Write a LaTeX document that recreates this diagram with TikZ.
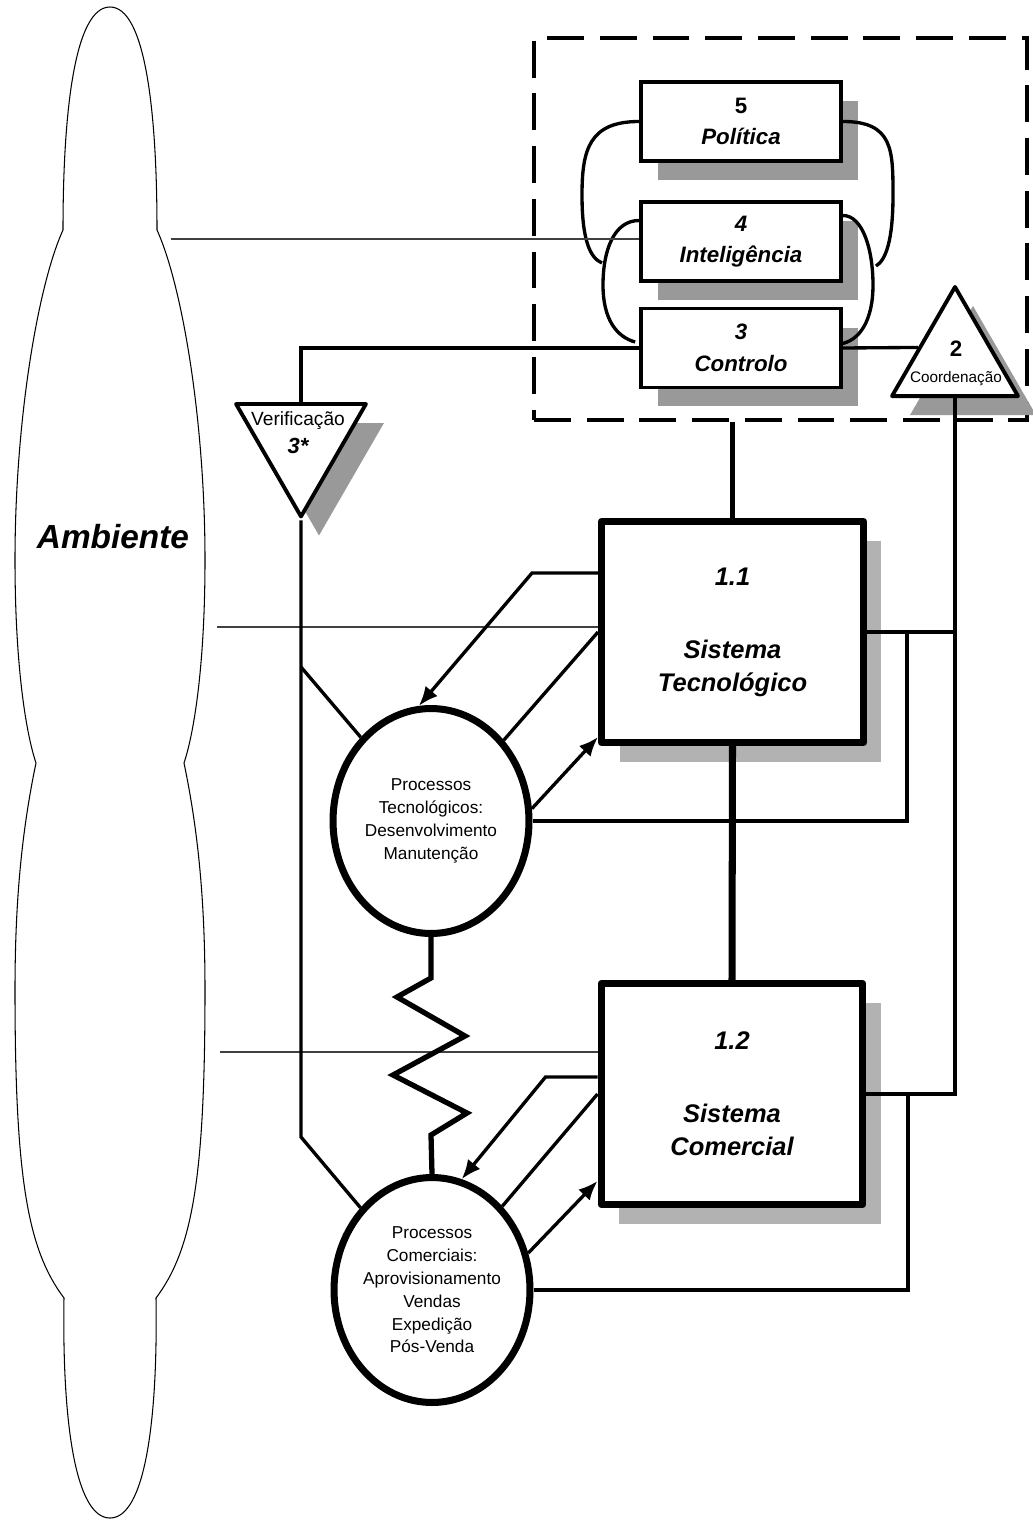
\documentclass[tikz,border=0pt]{standalone}
\usepackage{fontspec}
\setmainfont{Liberation Sans}
\usetikzlibrary{shapes.geometric,shadows,arrows.meta,calc}

\tikzset{
  smallbox/.style={draw, fill=white, line width=2.2pt, minimum width=4cm, minimum height=1.58cm, inner sep=0pt, align=center, font=\fontsize{12.7}{18}\selectfont\bfseries\itshape, drop shadow={shadow xshift=0.34cm, shadow yshift=-0.38cm, fill=black!40, opacity=1}},
  bigbox/.style={draw, fill=white, line width=4pt, line join=round, minimum width=5.24cm, minimum height=4.42cm, inner sep=0pt, align=center, font=\fontsize{14.5}{18.7}\selectfont\bfseries\itshape, drop shadow={shadow xshift=0.36cm, shadow yshift=-0.39cm, fill=black!30, opacity=1}},
  proc/.style={ellipse, draw, fill=white, line width=4pt, minimum width=3.92cm, minimum height=4.5cm, inner sep=0pt, align=center, font=\fontsize{9.8}{13}\selectfont},
  tri/.style={regular polygon, regular polygon sides=3, draw, fill=white, line width=2.2pt, line join=round, inner sep=0pt, drop shadow={shadow xshift=0.36cm, shadow yshift=-0.38cm, fill=black!40, opacity=1}},
  dashbox/.style={draw, line width=2.3pt, dash pattern=on 21pt off 9pt, minimum width=9.86cm, minimum height=7.64cm},
  medline/.style={line width=1.9pt},
  thinline/.style={line width=0.6pt, black!75},
  flow/.style={medline, -{Latex[length=11pt,width=9pt]}},
}

\begin{document}
\begin{tikzpicture}[x=0.02cm, y=-0.02cm]
\useasboundingbox (0,0) rectangle (1032,1521);

% ambiente
\draw[line width=0.6pt] (110,7) .. controls (145,7) and (157,110) .. (157,230)
  .. controls (182,285) and (205,420) .. (205,560)
  .. controls (205,660) and (195,730) .. (184,763)
  .. controls (198,830) and (205,900) .. (205,990)
  .. controls (205,1180) and (192,1250) .. (156,1298)
  .. controls (158,1420) and (145,1518) .. (110,1518)
  .. controls (75,1518) and (62,1420) .. (64,1298)
  .. controls (28,1250) and (15,1180) .. (15,990)
  .. controls (15,900) and (22,830) .. (36,763)
  .. controls (25,730) and (15,660) .. (15,560)
  .. controls (15,420) and (38,285) .. (63,230)
  .. controls (63,110) and (75,7) .. (110,7) -- cycle;
\node[font=\fontsize{19}{23}\selectfont\bfseries\itshape] (amb) at (113,537) {Ambiente};

\node[dashbox] (mgmt) at (780.5,229) {};

\node[smallbox] (pol) at (741,121.5) {{\upshape 5}\\Política};
\node[smallbox] (intel) at (741,241.5) {4\\Inteligência};
\node[smallbox] (ctrl) at (741,348) {3\\Controlo};

\node[tri, minimum size=2.91cm] (coord) at (955,359.7) {};
\node[align=center, inner sep=0pt, font=\fontsize{8.7}{14.7}\selectfont] (coordtxt) at (956,363) {{\fontsize{12.7}{14.7}\selectfont\bfseries 2}\\Coordenação};
\node[tri, regular polygon rotate=180, minimum size=3cm] (verif) at (301,441.5) {};
\node[align=center, inner sep=0pt, font=\fontsize{10.9}{15.9}\selectfont] (veriftxt) at (298,433) {Verificação\\{\fontsize{12.5}{15.9}\selectfont\bfseries\itshape 3*}};

\node[bigbox] (tecsys) at (732.5,632) {1.1\\[23pt]Sistema\\Tecnológico};
\node[bigbox] (comsys) at (732,1094) {1.2\\[23pt]Sistema\\Comercial};

\node[proc] (tecproc) at (431,821) {Processos\\Tecnológicos:\\Desenvolvimento\\Manutenção};
\node[proc] (comproc) at (432,1290) {Processos\\Comerciais:\\Aprovisionamento\\Vendas\\Expedição\\Pós-Venda};

% loops 5-4-3
\draw[medline] (pol.west) .. controls +(-50,0) and +(0,-45) .. (582,195) .. controls +(0,45) and +(-12,-5) .. (602,263);
\draw[medline] (pol.east) .. controls +(50,0) and +(0,-45) .. (893,195) .. controls +(0,45) and +(10,-6) .. (876,266);
\draw[medline] ($(intel.west)+(0,-21)$) .. controls +(-25,0) and +(0,-35) .. (603,285) .. controls +(0,35) and +(-18,-5) .. ($(ctrl.west)+(-4,-6)$);
\draw[medline] ($(intel.east)+(0,-26)$) .. controls +(20,0) and +(0,-35) .. (873,285) .. controls +(0,35) and +(20,-3) .. ($(ctrl.east)+(-3,-4)$);

\draw[thinline] (171,239) -- (intel.west |- 0,239);
\draw[thinline] (217,627) -- (tecsys.west |- 0,627);
\draw[thinline] (220,1052) -- (comsys.west |- 0,1052);

\draw[medline] (ctrl.east) -- ($(coord.corner 1)!0.56!(coord.corner 2)$);
\draw[medline] (ctrl.west) -| (verif.north);
\draw[medline] (verif.corner 1) -- (301,1137) -- (comproc.131);
\draw[medline] (301,667) -- (tecproc.130);

\draw[line width=2.7pt] (tecsys.north |- mgmt.south) -- (tecsys.north);
\draw[line width=4pt] (tecsys.south) -- (comsys.north);

\draw[line width=3pt] (tecproc.south) -- (431,978) -- (397,997) -- (465,1036) -- (393,1075) -- (467,1113) -- (431,1135) -- (comproc.north);

\draw[flow] ($(tecsys.west)+(0,-59)$) -- ++(-66,0) -- (tecproc.96);
\draw[medline] (tecsys.west) -- (tecproc.48);
\draw[flow] (tecproc.7) -- ($(tecsys.south west)+(0,-9)$);

\draw[flow] ($(comsys.west)+(0,-17)$) -- ++(-52,0) -- (comproc.75);
\draw[medline] (comsys.west) -- (comproc.50);
\draw[flow] (comproc.21) -- ($(comsys.south west)+(0,-27)$);

\draw[medline] (tecsys.east) -- (tecsys.east -| coord.south);
\draw[medline] (coord.south) |- (comsys.east);
\draw[medline] (tecproc.east) -| (907,632);
\draw[medline] (comproc.east) -| (908,1094);
\end{tikzpicture}
\end{document}
